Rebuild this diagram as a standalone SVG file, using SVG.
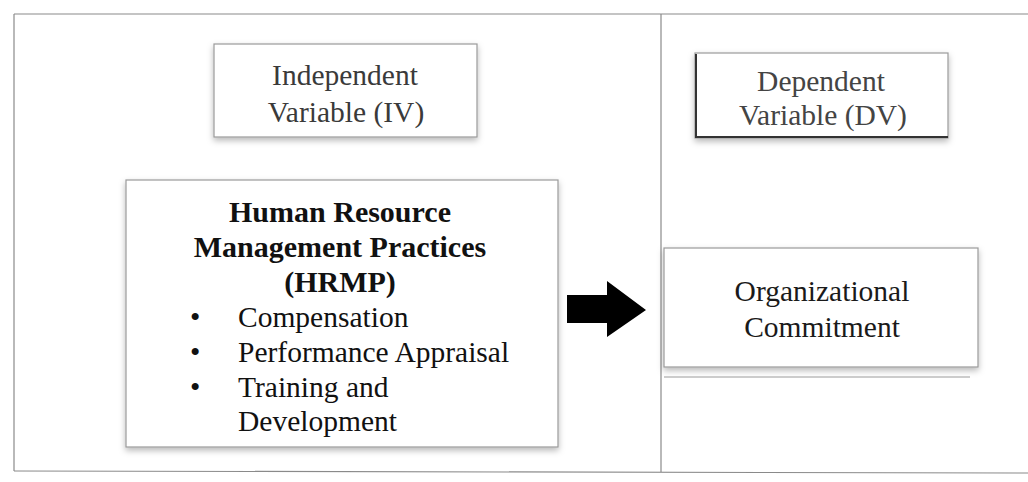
<svg xmlns="http://www.w3.org/2000/svg" width="1028" height="482" viewBox="0 0 1028 482">
  <style>
    .frame { stroke: #8a8a8a; stroke-width: 1.2; fill: none; }
    .box { fill: #ffffff; stroke: #9a9a9a; stroke-width: 1.2; filter: url(#shadow); }
    .t { font-family: "Liberation Serif", "Times New Roman", serif; font-size: 29.5px; fill: #1a1a1a; text-anchor: middle; }
    .tl { font-family: "Liberation Serif", "Times New Roman", serif; font-size: 29.5px; fill: #111111; }
    .b { font-family: "Liberation Serif", "Times New Roman", serif; font-size: 30px; font-weight: bold; fill: #111111; text-anchor: middle; }
    .gray { fill: #3a3a3a; }
  </style>
  <defs>
    <filter id="shadow" x="-10%" y="-20%" width="120%" height="150%">
      <feDropShadow dx="0" dy="3" stdDeviation="3" flood-color="#000000" flood-opacity="0.28"/>
    </filter>
  </defs>
  <rect x="0" y="0" width="1028" height="482" fill="#ffffff"/>
  <g id="frame">
    <line class="frame" x1="14" y1="14" x2="1028" y2="14"/>
    <line class="frame" x1="14" y1="14" x2="14" y2="471"/>
    <line class="frame" x1="14" y1="471" x2="1028" y2="473"/>
    <line class="frame" x1="661" y1="14" x2="661" y2="472"/>
  </g>
  <g id="iv">
    <rect class="box" x="214" y="44" width="263" height="93"/>
    <text class="t gray" x="345" y="85">Independent</text>
    <text class="t gray" x="346" y="122">Variable (IV)</text>
  </g>
  <g id="dv">
    <rect class="box" x="695" y="53" width="253" height="85"/>
    <line x1="696" y1="54" x2="696" y2="138" stroke="#333" stroke-width="2"/>
    <line x1="695" y1="137" x2="948" y2="137" stroke="#333" stroke-width="2"/>
    <text class="t" x="821" y="91" fill="#444" style="fill:#444">Dependent</text>
    <text class="t" x="823" y="125" style="fill:#444">Variable (DV)</text>
  </g>
  <g id="hrmp">
    <rect class="box" x="126" y="180" width="432" height="267"/>
    <text class="b" x="340" y="222">Human Resource</text>
    <text class="b" x="340" y="257">Management Practices</text>
    <text class="b" x="340" y="292">(HRMP)</text>
    <text class="tl" x="190" y="327">•</text>
    <text class="tl" x="238" y="327">Compensation</text>
    <text class="tl" x="190" y="362">•</text>
    <text class="tl" x="238" y="362">Performance Appraisal</text>
    <text class="tl" x="190" y="397">•</text>
    <text class="tl" x="238" y="397">Training and</text>
    <text class="tl" x="238" y="431">Development</text>
  </g>
  <g id="oc">
    <rect class="box" x="664" y="248" width="314" height="119"/>
    <line x1="664" y1="377" x2="970" y2="377" stroke="#9a9a9a" stroke-width="1"/>
    <text class="t" x="822" y="301">Organizational</text>
    <text class="t" x="822" y="337">Commitment</text>
  </g>
  <g id="connectors">
    <polygon points="567,295 607,295 607,281 646,310 607,337 607,323 567,323" fill="#000000"/>
  </g>
</svg>
